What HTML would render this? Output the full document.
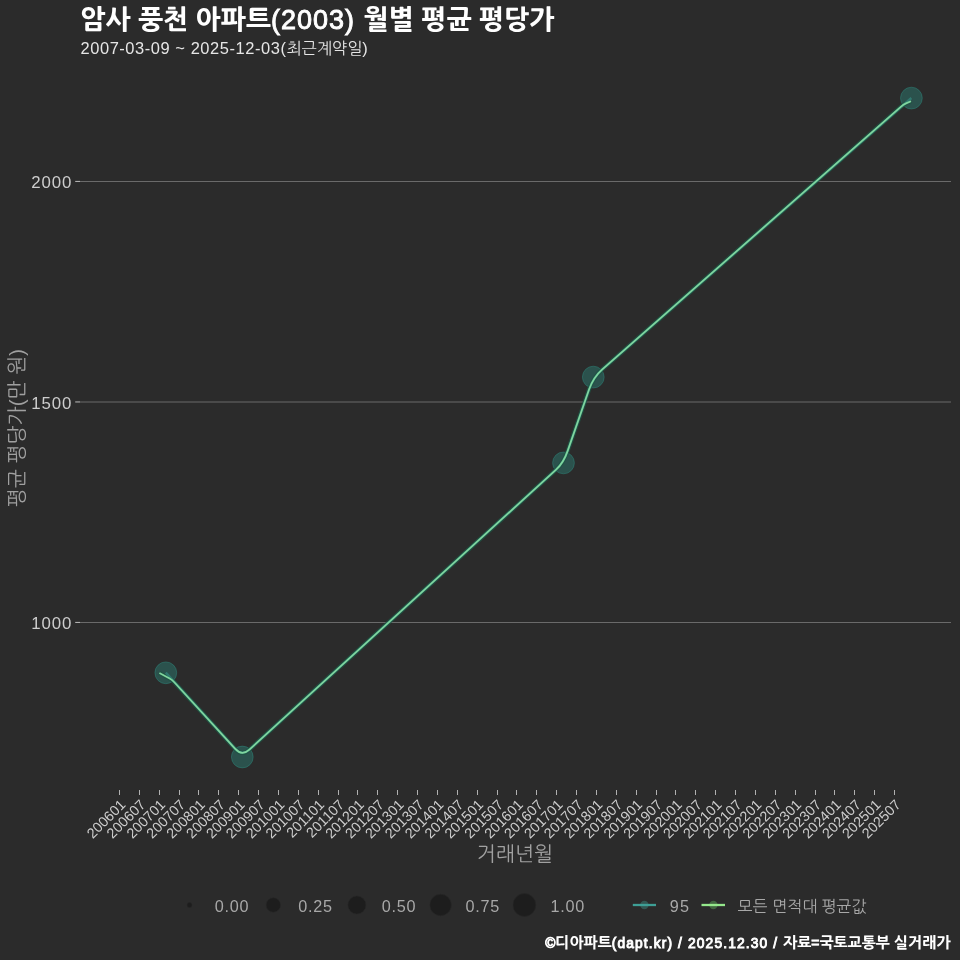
<!DOCTYPE html>
<html><head><meta charset="utf-8"><title>암사 풍천 아파트(2003) 월별 평균 평당가</title>
<style>
html,body{margin:0;padding:0;background:#2b2b2b;}
body{width:960px;height:960px;overflow:hidden;}
svg{display:block;will-change:transform;}
text{font-family:'Liberation Sans','NanumGothic',sans-serif;}
</style></head><body>
<svg width="960" height="960" viewBox="0 0 960 960">
<rect width="960" height="960" fill="#2b2b2b"/>

<text x="80.3" y="28.9" font-size="26.72" font-weight="800" fill="#ffffff">암사 풍천 아파트<tspan font-size="26.99" font-weight="normal" stroke="#ffffff" stroke-width="0.9" textLength="91.66">(2003) </tspan>월별 평균 평당가</text>
<text x="80.5" y="54" font-size="16.15" fill="#e6e6e6"><tspan font-size="16.47" textLength="205.39">2007-03-09 ~ 2025-12-03(</tspan>최근계약일<tspan font-size="16.47" textLength="5.86">)</tspan></text>
<line x1="80" y1="181.45" x2="951" y2="181.45" stroke="#6a6a6a" stroke-width="1.1"/>
<line x1="75.2" y1="181.45" x2="80" y2="181.45" stroke="#b0b0b0" stroke-width="1.1"/>
<text x="71.3" y="188.15" font-size="16.5" text-anchor="end" fill="#cdcdcd"><tspan font-size="16.83" textLength="40.00">2000</tspan></text>
<line x1="80" y1="401.95" x2="951" y2="401.95" stroke="#6a6a6a" stroke-width="1.1"/>
<line x1="75.2" y1="401.95" x2="80" y2="401.95" stroke="#b0b0b0" stroke-width="1.1"/>
<text x="71.3" y="408.65" font-size="16.5" text-anchor="end" fill="#cdcdcd"><tspan font-size="16.83" textLength="40.00">1500</tspan></text>
<line x1="80" y1="622.45" x2="951" y2="622.45" stroke="#6a6a6a" stroke-width="1.1"/>
<line x1="75.2" y1="622.45" x2="80" y2="622.45" stroke="#b0b0b0" stroke-width="1.1"/>
<text x="71.3" y="629.15" font-size="16.5" text-anchor="end" fill="#cdcdcd"><tspan font-size="16.83" textLength="40.00">1000</tspan></text>
<line x1="119.50" y1="790" x2="119.50" y2="795" stroke="#b0b0b0" stroke-width="1"/>
<text transform="translate(126.40,805.5) rotate(-45)" font-size="14.30" text-anchor="end" fill="#cdcdcd">200601</text>
<line x1="139.50" y1="790" x2="139.50" y2="795" stroke="#b0b0b0" stroke-width="1"/>
<text transform="translate(146.28,805.5) rotate(-45)" font-size="14.30" text-anchor="end" fill="#cdcdcd">200607</text>
<line x1="159.50" y1="790" x2="159.50" y2="795" stroke="#b0b0b0" stroke-width="1"/>
<text transform="translate(166.15,805.5) rotate(-45)" font-size="14.30" text-anchor="end" fill="#cdcdcd">200701</text>
<line x1="179.50" y1="790" x2="179.50" y2="795" stroke="#b0b0b0" stroke-width="1"/>
<text transform="translate(186.03,805.5) rotate(-45)" font-size="14.30" text-anchor="end" fill="#cdcdcd">200707</text>
<line x1="198.50" y1="790" x2="198.50" y2="795" stroke="#b0b0b0" stroke-width="1"/>
<text transform="translate(205.91,805.5) rotate(-45)" font-size="14.30" text-anchor="end" fill="#cdcdcd">200801</text>
<line x1="218.50" y1="790" x2="218.50" y2="795" stroke="#b0b0b0" stroke-width="1"/>
<text transform="translate(225.78,805.5) rotate(-45)" font-size="14.30" text-anchor="end" fill="#cdcdcd">200807</text>
<line x1="238.50" y1="790" x2="238.50" y2="795" stroke="#b0b0b0" stroke-width="1"/>
<text transform="translate(245.66,805.5) rotate(-45)" font-size="14.30" text-anchor="end" fill="#cdcdcd">200901</text>
<line x1="258.50" y1="790" x2="258.50" y2="795" stroke="#b0b0b0" stroke-width="1"/>
<text transform="translate(265.54,805.5) rotate(-45)" font-size="14.30" text-anchor="end" fill="#cdcdcd">200907</text>
<line x1="278.50" y1="790" x2="278.50" y2="795" stroke="#b0b0b0" stroke-width="1"/>
<text transform="translate(285.42,805.5) rotate(-45)" font-size="14.30" text-anchor="end" fill="#cdcdcd">201001</text>
<line x1="298.50" y1="790" x2="298.50" y2="795" stroke="#b0b0b0" stroke-width="1"/>
<text transform="translate(305.29,805.5) rotate(-45)" font-size="14.30" text-anchor="end" fill="#cdcdcd">201007</text>
<line x1="318.50" y1="790" x2="318.50" y2="795" stroke="#b0b0b0" stroke-width="1"/>
<text transform="translate(325.17,805.5) rotate(-45)" font-size="14.30" text-anchor="end" fill="#cdcdcd">201101</text>
<line x1="338.50" y1="790" x2="338.50" y2="795" stroke="#b0b0b0" stroke-width="1"/>
<text transform="translate(345.05,805.5) rotate(-45)" font-size="14.30" text-anchor="end" fill="#cdcdcd">201107</text>
<line x1="357.50" y1="790" x2="357.50" y2="795" stroke="#b0b0b0" stroke-width="1"/>
<text transform="translate(364.92,805.5) rotate(-45)" font-size="14.30" text-anchor="end" fill="#cdcdcd">201201</text>
<line x1="377.50" y1="790" x2="377.50" y2="795" stroke="#b0b0b0" stroke-width="1"/>
<text transform="translate(384.80,805.5) rotate(-45)" font-size="14.30" text-anchor="end" fill="#cdcdcd">201207</text>
<line x1="397.50" y1="790" x2="397.50" y2="795" stroke="#b0b0b0" stroke-width="1"/>
<text transform="translate(404.68,805.5) rotate(-45)" font-size="14.30" text-anchor="end" fill="#cdcdcd">201301</text>
<line x1="417.50" y1="790" x2="417.50" y2="795" stroke="#b0b0b0" stroke-width="1"/>
<text transform="translate(424.55,805.5) rotate(-45)" font-size="14.30" text-anchor="end" fill="#cdcdcd">201307</text>
<line x1="437.50" y1="790" x2="437.50" y2="795" stroke="#b0b0b0" stroke-width="1"/>
<text transform="translate(444.43,805.5) rotate(-45)" font-size="14.30" text-anchor="end" fill="#cdcdcd">201401</text>
<line x1="457.50" y1="790" x2="457.50" y2="795" stroke="#b0b0b0" stroke-width="1"/>
<text transform="translate(464.31,805.5) rotate(-45)" font-size="14.30" text-anchor="end" fill="#cdcdcd">201407</text>
<line x1="477.50" y1="790" x2="477.50" y2="795" stroke="#b0b0b0" stroke-width="1"/>
<text transform="translate(484.19,805.5) rotate(-45)" font-size="14.30" text-anchor="end" fill="#cdcdcd">201501</text>
<line x1="497.50" y1="790" x2="497.50" y2="795" stroke="#b0b0b0" stroke-width="1"/>
<text transform="translate(504.06,805.5) rotate(-45)" font-size="14.30" text-anchor="end" fill="#cdcdcd">201507</text>
<line x1="516.50" y1="790" x2="516.50" y2="795" stroke="#b0b0b0" stroke-width="1"/>
<text transform="translate(523.94,805.5) rotate(-45)" font-size="14.30" text-anchor="end" fill="#cdcdcd">201601</text>
<line x1="536.50" y1="790" x2="536.50" y2="795" stroke="#b0b0b0" stroke-width="1"/>
<text transform="translate(543.82,805.5) rotate(-45)" font-size="14.30" text-anchor="end" fill="#cdcdcd">201607</text>
<line x1="556.50" y1="790" x2="556.50" y2="795" stroke="#b0b0b0" stroke-width="1"/>
<text transform="translate(563.69,805.5) rotate(-45)" font-size="14.30" text-anchor="end" fill="#cdcdcd">201701</text>
<line x1="576.50" y1="790" x2="576.50" y2="795" stroke="#b0b0b0" stroke-width="1"/>
<text transform="translate(583.57,805.5) rotate(-45)" font-size="14.30" text-anchor="end" fill="#cdcdcd">201707</text>
<line x1="596.50" y1="790" x2="596.50" y2="795" stroke="#b0b0b0" stroke-width="1"/>
<text transform="translate(603.45,805.5) rotate(-45)" font-size="14.30" text-anchor="end" fill="#cdcdcd">201801</text>
<line x1="616.50" y1="790" x2="616.50" y2="795" stroke="#b0b0b0" stroke-width="1"/>
<text transform="translate(623.32,805.5) rotate(-45)" font-size="14.30" text-anchor="end" fill="#cdcdcd">201807</text>
<line x1="636.50" y1="790" x2="636.50" y2="795" stroke="#b0b0b0" stroke-width="1"/>
<text transform="translate(643.20,805.5) rotate(-45)" font-size="14.30" text-anchor="end" fill="#cdcdcd">201901</text>
<line x1="656.50" y1="790" x2="656.50" y2="795" stroke="#b0b0b0" stroke-width="1"/>
<text transform="translate(663.08,805.5) rotate(-45)" font-size="14.30" text-anchor="end" fill="#cdcdcd">201907</text>
<line x1="675.50" y1="790" x2="675.50" y2="795" stroke="#b0b0b0" stroke-width="1"/>
<text transform="translate(682.96,805.5) rotate(-45)" font-size="14.30" text-anchor="end" fill="#cdcdcd">202001</text>
<line x1="695.50" y1="790" x2="695.50" y2="795" stroke="#b0b0b0" stroke-width="1"/>
<text transform="translate(702.83,805.5) rotate(-45)" font-size="14.30" text-anchor="end" fill="#cdcdcd">202007</text>
<line x1="715.50" y1="790" x2="715.50" y2="795" stroke="#b0b0b0" stroke-width="1"/>
<text transform="translate(722.71,805.5) rotate(-45)" font-size="14.30" text-anchor="end" fill="#cdcdcd">202101</text>
<line x1="735.50" y1="790" x2="735.50" y2="795" stroke="#b0b0b0" stroke-width="1"/>
<text transform="translate(742.59,805.5) rotate(-45)" font-size="14.30" text-anchor="end" fill="#cdcdcd">202107</text>
<line x1="755.50" y1="790" x2="755.50" y2="795" stroke="#b0b0b0" stroke-width="1"/>
<text transform="translate(762.46,805.5) rotate(-45)" font-size="14.30" text-anchor="end" fill="#cdcdcd">202201</text>
<line x1="775.50" y1="790" x2="775.50" y2="795" stroke="#b0b0b0" stroke-width="1"/>
<text transform="translate(782.34,805.5) rotate(-45)" font-size="14.30" text-anchor="end" fill="#cdcdcd">202207</text>
<line x1="795.50" y1="790" x2="795.50" y2="795" stroke="#b0b0b0" stroke-width="1"/>
<text transform="translate(802.22,805.5) rotate(-45)" font-size="14.30" text-anchor="end" fill="#cdcdcd">202301</text>
<line x1="815.50" y1="790" x2="815.50" y2="795" stroke="#b0b0b0" stroke-width="1"/>
<text transform="translate(822.09,805.5) rotate(-45)" font-size="14.30" text-anchor="end" fill="#cdcdcd">202307</text>
<line x1="834.50" y1="790" x2="834.50" y2="795" stroke="#b0b0b0" stroke-width="1"/>
<text transform="translate(841.97,805.5) rotate(-45)" font-size="14.30" text-anchor="end" fill="#cdcdcd">202401</text>
<line x1="854.50" y1="790" x2="854.50" y2="795" stroke="#b0b0b0" stroke-width="1"/>
<text transform="translate(861.85,805.5) rotate(-45)" font-size="14.30" text-anchor="end" fill="#cdcdcd">202407</text>
<line x1="874.50" y1="790" x2="874.50" y2="795" stroke="#b0b0b0" stroke-width="1"/>
<text transform="translate(881.73,805.5) rotate(-45)" font-size="14.30" text-anchor="end" fill="#cdcdcd">202501</text>
<line x1="894.50" y1="790" x2="894.50" y2="795" stroke="#b0b0b0" stroke-width="1"/>
<text transform="translate(901.60,805.5) rotate(-45)" font-size="14.30" text-anchor="end" fill="#cdcdcd">202507</text>
<text x="515" y="861" font-size="20.3" text-anchor="middle" fill="#a0a0a0">거래년월</text>
<text transform="translate(23.6,428.1) rotate(-90)" font-size="20.3" text-anchor="middle" fill="#a0a0a0">평균 평당가(만 원)</text>
<circle cx="165.8" cy="672.8" r="10.9" fill="#2da596" fill-opacity="0.33" stroke="#2da596" stroke-opacity="0.33" stroke-width="1"/>
<circle cx="242.3" cy="757" r="10.9" fill="#2da596" fill-opacity="0.33" stroke="#2da596" stroke-opacity="0.33" stroke-width="1"/>
<circle cx="563.5" cy="462.9" r="10.9" fill="#2da596" fill-opacity="0.33" stroke="#2da596" stroke-opacity="0.33" stroke-width="1"/>
<circle cx="593.3" cy="377.1" r="10.9" fill="#2da596" fill-opacity="0.33" stroke="#2da596" stroke-opacity="0.33" stroke-width="1"/>
<circle cx="911.4" cy="98.1" r="10.9" fill="#2da596" fill-opacity="0.33" stroke="#2da596" stroke-opacity="0.33" stroke-width="1"/>
<path d="M159.40,673.00 L169.66,678.57 Q172.30,680.00 174.32,682.21 L235.26,748.92 Q242.00,756.30 249.39,749.56 L556.11,469.64 Q563.50,462.90 567.77,450.62 L589.03,389.58 Q593.30,377.30 602.31,369.37 L901.05,106.58 Q903.30,104.60 906.05,103.40 L911.00,101.25" fill="none" stroke="#1f5443" stroke-width="4.4" stroke-opacity="0.75" stroke-linejoin="round" stroke-linecap="butt"/>
<path d="M165.80,672.60 L235.27,748.91 Q242.00,756.30 249.39,749.56 L556.11,469.64 Q563.50,462.90 567.77,450.62 L589.03,389.58 Q593.30,377.30 602.32,369.38 L911.35,98.00" fill="none" stroke="#37978d" stroke-width="2.4" stroke-opacity="0.55" stroke-linejoin="round" stroke-linecap="butt"/>
<path d="M159.40,673.00 L169.66,678.57 Q172.30,680.00 174.32,682.21 L235.26,748.92 Q242.00,756.30 249.39,749.56 L556.11,469.64 Q563.50,462.90 567.77,450.62 L589.03,389.58 Q593.30,377.30 602.31,369.37 L901.05,106.58 Q903.30,104.60 906.05,103.40 L911.00,101.25" fill="none" stroke="#80d69e" stroke-width="1.7" stroke-linejoin="round" stroke-linecap="butt"/>
<circle cx="189.5" cy="905" r="2.5" fill="#1d1d1d" stroke="#262626" stroke-width="0.6"/>
<text x="214.7" y="911.8" font-size="15.9" fill="#a8a8a8"><tspan font-size="16.22" textLength="33.72">0.00</tspan></text>
<circle cx="273.3" cy="905" r="7.2" fill="#1d1d1d" stroke="#262626" stroke-width="0.6"/>
<text x="298.3" y="911.8" font-size="15.9" fill="#a8a8a8"><tspan font-size="16.22" textLength="33.72">0.25</tspan></text>
<circle cx="356.9" cy="905" r="9.0" fill="#1d1d1d" stroke="#262626" stroke-width="0.6"/>
<text x="381.7" y="911.8" font-size="15.9" fill="#a8a8a8"><tspan font-size="16.22" textLength="33.72">0.50</tspan></text>
<circle cx="440.6" cy="905" r="10.7" fill="#1d1d1d" stroke="#262626" stroke-width="0.6"/>
<text x="465.5" y="911.8" font-size="15.9" fill="#a8a8a8"><tspan font-size="16.22" textLength="33.72">0.75</tspan></text>
<circle cx="524.4" cy="905" r="11.4" fill="#1d1d1d" stroke="#262626" stroke-width="0.6"/>
<text x="550.5" y="911.8" font-size="15.9" fill="#a8a8a8"><tspan font-size="16.22" textLength="33.72">1.00</tspan></text>
<circle cx="644.4" cy="905" r="4.2" fill="#3d8f84" fill-opacity="0.45"/>
<line x1="632.8" y1="905" x2="656" y2="905" stroke="#3e9f96" stroke-width="2.3"/>
<text x="669.7" y="911.8" font-size="15.9" fill="#a8a8a8"><tspan font-size="16.22" textLength="19.27">95</tspan></text>
<circle cx="713.4" cy="905" r="4.2" fill="#5fae5a" fill-opacity="0.45"/>
<line x1="701.5" y1="905" x2="725" y2="905" stroke="#95e88c" stroke-width="2.3"/>
<text x="737.8" y="911.8" font-size="15.95" fill="#a8a8a8">모든 면적대 평균값</text>
<text x="950.5" y="948.2" font-size="15.0" font-weight="800" text-anchor="end" fill="#ffffff"><tspan font-size="13.80" font-weight="normal" stroke="#ffffff" stroke-width="0.9" textLength="12.83">©</tspan>디아파트<tspan font-size="13.80" font-weight="normal" stroke="#ffffff" stroke-width="0.9" textLength="170.34">(dapt.kr) / 2025.12.30 / </tspan>자료<tspan font-size="13.80" font-weight="normal" stroke="#ffffff" stroke-width="0.9" textLength="10.20">=</tspan>국토교통부 실거래가</text>
</svg>
</body></html>
